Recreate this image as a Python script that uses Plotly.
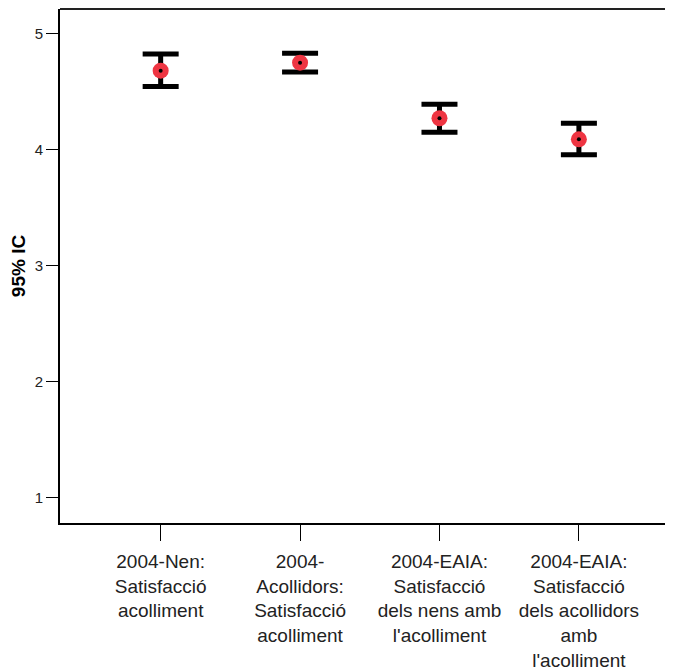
import plotly.graph_objects as go

categories = [
    "2004-Nen:<br>Satisfacció<br>acolliment",
    "2004-<br>Acollidors:<br>Satisfacció<br>acolliment",
    "2004-EAIA:<br>Satisfacció<br>dels nens amb<br>l'acolliment",
    "2004-EAIA:<br>Satisfacció<br>dels acollidors<br>amb<br>l'acolliment",
]
means = [4.683, 4.752, 4.272, 4.090]
upper = [4.827, 4.833, 4.393, 4.228]
lower = [4.545, 4.672, 4.151, 3.957]
y_ticks = [1, 2, 3, 4, 5]

err_plus = [u - m for u, m in zip(upper, means)]
err_minus = [m - l for m, l in zip(means, lower)]
xpos = list(range(len(categories)))

fig = go.Figure()
fig.add_trace(go.Scatter(
    x=xpos, y=means, mode="markers",
    marker=dict(size=16, color="#EE3542", line=dict(width=0)),
    error_y=dict(type="data", array=err_plus, arrayminus=err_minus,
                 color="black", thickness=5, width=18, symmetric=False),
    showlegend=False, hoverinfo="skip",
))
fig.add_trace(go.Scatter(
    x=xpos, y=means, mode="markers",
    marker=dict(size=4, color="black"),
    showlegend=False, hoverinfo="skip",
))

fig.update_layout(
    width=665, height=663,
    margin=dict(l=52, r=0, t=1, b=148),
    paper_bgcolor="white", plot_bgcolor="white",
    font=dict(family="Liberation Sans, Arial, sans-serif", color="#222"),
    shapes=[dict(type="line", xref="paper", yref="paper", x0=0, x1=1, y0=1, y1=1,
                 line=dict(color="#222", width=2))],
)
fig.update_xaxes(
    range=[-0.722, 3.675], tickmode="array", tickvals=xpos, ticktext=categories,
    showline=True, linecolor="black", linewidth=2,
    ticks="outside", ticklen=16, tickwidth=1, tickcolor="black",
    tickfont=dict(size=19, color="#222"), showgrid=False, zeroline=False,
    tickangle=0, ticklabelstandoff=4, automargin=False,
)
fig.update_yaxes(
    range=[0.778, 5.215], tickmode="array", tickvals=y_ticks,
    showline=True, linecolor="black", linewidth=2,
    ticks="outside", ticklen=12, tickwidth=1, tickcolor="black",
    tickfont=dict(size=15, color="#222"), showgrid=False, zeroline=False,
    automargin=False,
    title=dict(text="<b>95% IC</b>", font=dict(size=19, color="black"), standoff=12),
)

fig.write_html("out.html")
